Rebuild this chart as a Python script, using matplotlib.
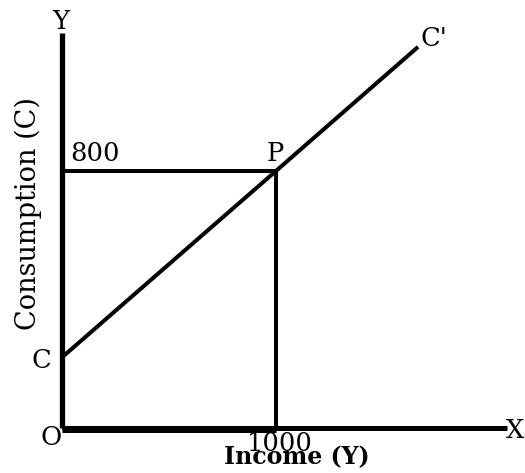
import matplotlib
matplotlib.use("Agg")
import matplotlib.pyplot as plt

# consumption function C = a + bY
income = [0, 1000, 1664]
consumption = [220, 800, 1186]
point_y = 1000
point_c = 800
x_end = 2080
y_end = 1230

plt.rcParams['font.family'] = ['DejaVu Serif']

fig = plt.figure(figsize=(5.25, 4.73), dpi=100)
ax = fig.add_axes([0, 0, 1, 1])
ax.set_xlim(-290, 2164)
ax.set_ylim(-140, 1332)
ax.axis('off')

# axes
ax.plot([0, 0], [0, y_end], color='black', lw=3.8, solid_capstyle='butt')
ax.plot([0, x_end], [0, 0], color='black', lw=3.6, solid_capstyle='butt')
ax.plot([0, point_y], [-6, -6], color='black', lw=3.6, solid_capstyle='butt')

# guide lines to P
ax.plot([0, point_y, point_y], [point_c, point_c, 0], color='black', lw=2.9)

# consumption line
ax.plot(income, consumption, color='black', lw=2.9, solid_capstyle='butt')

fs = 18.5
ax.text(-5, 1264, 'Y', ha='center', va='center', fontsize=fs)
ax.text(2117, -9, 'X', ha='center', va='center', fontsize=fs)
ax.text(-51, -28, 'O', ha='center', va='center', fontsize=fs)
ax.text(-98, 209, 'C', ha='center', va='center', fontsize=fs)
ax.text(152, 853, '800', ha='center', va='center', fontsize=fs)
ax.text(995, 853, 'P', ha='center', va='center', fontsize=fs)
ax.text(1740, 1211, "C'", ha='center', va='center', fontsize=fs)
ax.text(1019, -47, '1000', ha='center', va='center', fontsize=fs)
ax.text(1098, -90, 'Income (Y)', ha='center', va='center', fontsize=17, fontweight='bold')
ax.text(-159, 669, 'Consumption (C)', ha='center', va='center', fontsize=19.5, rotation=90)

fig.savefig('out.png', dpi=100)
